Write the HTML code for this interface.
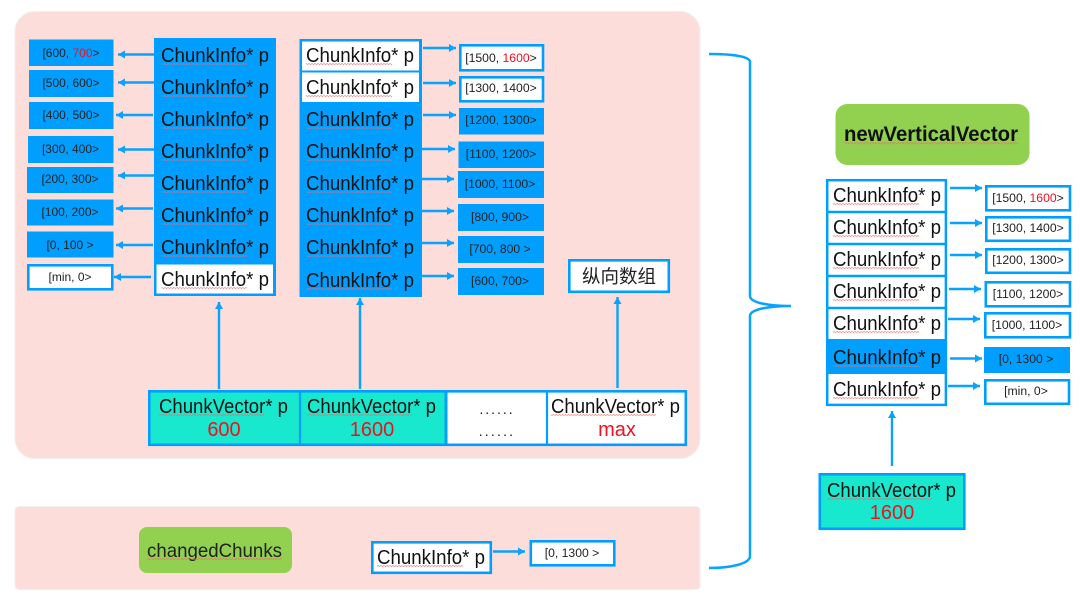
<!DOCTYPE html>
<html><head><meta charset="utf-8"><style>
html,body{margin:0;padding:0;background:#fff}
svg{display:block}
text{font-family:"Liberation Sans","Noto Sans CJK SC",sans-serif;fill:#111}
.c{font-size:20px}
.v{font-size:20px}
.s{font-size:12.2px;text-anchor:middle;fill:#222}
.l{font-size:12px;text-anchor:middle;fill:#222}
.r{fill:#f01020}
.n{font-size:20px;text-anchor:middle;fill:#f01020}
.b{fill:#009fff}
.o{fill:#fff;stroke:#009fff;stroke-width:2.6}
.a{stroke:#0aa2ff;stroke-width:2.4;fill:none;marker-end:url(#m)}
.w{fill:url(#wv)}
</style></head><body>
<svg width="1080" height="602" viewBox="0 0 1080 602" xmlns="http://www.w3.org/2000/svg">
<defs>
<marker id="m" markerUnits="userSpaceOnUse" markerWidth="8" markerHeight="9" refX="7" refY="4.500" orient="auto"><path d="M0 .5L7 4.500L0 8.500z" fill="#0aa2ff"/></marker>
<pattern id="wv" width="3" height="2" patternUnits="userSpaceOnUse"><path d="M0 1.500L1.500 .5L3 1.500" stroke="#ec6a6a" stroke-width=".7" fill="none"/></pattern>
</defs>
<rect width="1080" height="602" fill="#fff"/>
<rect x="15" y="11.500" width="685" height="447" rx="20" fill="#fdddd9" stroke="#eee" stroke-width="1"/>
<rect x="15" y="506.500" width="685" height="83" rx="4" fill="#fdddd9" stroke="#eee" stroke-width="1"/>

<!-- left small boxes -->
<rect class="b" x="29" y="39.500" width="84.500" height="26.500"/>
<rect class="b" x="29" y="70" width="84.500" height="27"/>
<rect class="b" x="29" y="102" width="84.500" height="27"/>
<rect class="b" x="28" y="136" width="85.500" height="27"/>
<rect class="b" x="27" y="167" width="86.500" height="26"/>
<rect class="b" x="27" y="199.500" width="86.500" height="26"/>
<rect class="b" x="27" y="231.500" width="86.500" height="26"/>
<rect class="o" x="28.300" y="265.300" width="84" height="24"/>
<text class="l" x="71" y="57">[600, <tspan class="r">700</tspan>&gt;</text>
<text class="l" x="71" y="87">[500, 600&gt;</text>
<text class="l" x="71" y="119">[400, 500&gt;</text>
<text class="l" x="70.500" y="153">[300, 400&gt;</text>
<text class="l" x="70" y="183">[200, 300&gt;</text>
<text class="l" x="70" y="216">[100, 200&gt;</text>
<text class="l" x="70" y="249">[0, 100 &gt;</text>
<text class="l" x="70" y="281">[min, 0&gt;</text>
<path class="a" d="M154 54.500H118"/><path class="a" d="M154 82.500H118"/><path class="a" d="M153 115H116"/><path class="a" d="M154 149.500H118"/><path class="a" d="M154 175.500H118"/><path class="a" d="M153 208.500H116"/><path class="a" d="M153 245H116"/><path class="a" d="M151 277H114"/>

<!-- column 1 -->
<rect class="b" x="154" y="38" width="122" height="258"/>
<rect x="156.500" y="264.500" width="116.500" height="29" fill="#fff"/>
<text class="c" x="161" y="62" textLength="108" lengthAdjust="spacingAndGlyphs">ChunkInfo* p</text>
<text class="c" x="161" y="94" textLength="108" lengthAdjust="spacingAndGlyphs">ChunkInfo* p</text>
<text class="c" x="161" y="126" textLength="108" lengthAdjust="spacingAndGlyphs">ChunkInfo* p</text>
<text class="c" x="161" y="158" textLength="108" lengthAdjust="spacingAndGlyphs">ChunkInfo* p</text>
<text class="c" x="161" y="190" textLength="108" lengthAdjust="spacingAndGlyphs">ChunkInfo* p</text>
<text class="c" x="161" y="222" textLength="108" lengthAdjust="spacingAndGlyphs">ChunkInfo* p</text>
<text class="c" x="161" y="254" textLength="108" lengthAdjust="spacingAndGlyphs">ChunkInfo* p</text>
<text class="c" x="161" y="286" textLength="108" lengthAdjust="spacingAndGlyphs">ChunkInfo* p</text>
<rect class="w" x="161" y="63" width="86" height="2"/><rect class="w" x="161" y="95" width="86" height="2"/><rect class="w" x="161" y="127" width="86" height="2"/><rect class="w" x="161" y="159" width="86" height="2"/><rect class="w" x="161" y="191" width="86" height="2"/><rect class="w" x="161" y="223" width="86" height="2"/><rect class="w" x="161" y="255" width="86" height="2"/><rect class="w" x="161" y="287" width="86" height="2"/>

<!-- column 2 -->
<rect class="b" x="299.500" y="39" width="122.500" height="258"/>
<rect x="302" y="41.500" width="117" height="29" fill="#fff"/>
<rect x="302" y="72.500" width="117" height="29.500" fill="#fff"/>
<text class="c" x="306" y="62" textLength="108" lengthAdjust="spacingAndGlyphs">ChunkInfo* p</text>
<text class="c" x="306" y="94" textLength="108" lengthAdjust="spacingAndGlyphs">ChunkInfo* p</text>
<text class="c" x="306" y="126" textLength="108" lengthAdjust="spacingAndGlyphs">ChunkInfo* p</text>
<text class="c" x="306" y="158" textLength="108" lengthAdjust="spacingAndGlyphs">ChunkInfo* p</text>
<text class="c" x="306" y="190" textLength="108" lengthAdjust="spacingAndGlyphs">ChunkInfo* p</text>
<text class="c" x="306" y="222" textLength="108" lengthAdjust="spacingAndGlyphs">ChunkInfo* p</text>
<text class="c" x="306" y="254" textLength="108" lengthAdjust="spacingAndGlyphs">ChunkInfo* p</text>
<text class="c" x="306" y="287" textLength="108" lengthAdjust="spacingAndGlyphs">ChunkInfo* p</text>
<rect class="w" x="306" y="63" width="86" height="2"/><rect class="w" x="306" y="95" width="86" height="2"/><rect class="w" x="306" y="127" width="86" height="2"/><rect class="w" x="306" y="159" width="86" height="2"/><rect class="w" x="306" y="191" width="86" height="2"/><rect class="w" x="306" y="223" width="86" height="2"/><rect class="w" x="306" y="255" width="86" height="2"/><rect class="w" x="306" y="288" width="86" height="2"/>
<path class="a" d="M423 48H456"/><path class="a" d="M423 83H456"/><path class="a" d="M423 115H456"/><path class="a" d="M422 149H455"/><path class="a" d="M421 179H454"/><path class="a" d="M421 211H454"/><path class="a" d="M421 243H454"/><path class="a" d="M421 276H454"/>

<!-- middle boxes -->
<rect class="o" x="460.300" y="45.300" width="82.700" height="25"/>
<rect class="o" x="460.300" y="77.300" width="82.700" height="24"/>
<rect class="b" x="459" y="108" width="85" height="26.500"/>
<rect class="b" x="458.500" y="141.500" width="85.500" height="26.500"/>
<rect class="b" x="458" y="171" width="86" height="27"/>
<rect class="b" x="458" y="204" width="86" height="27"/>
<rect class="b" x="458" y="236" width="86" height="27"/>
<rect class="b" x="458" y="268" width="86" height="27"/>
<text class="s" x="501" y="62">[1500, <tspan class="r">1600</tspan>&gt;</text>
<text class="s" x="501" y="92">[1300, 1400&gt;</text>
<text class="s" x="501" y="124">[1200, 1300&gt;</text>
<text class="s" x="501" y="158">[1100, 1200&gt;</text>
<text class="s" x="500" y="188">[1000, 1100&gt;</text>
<text class="s" x="500" y="221">[800, 900&gt;</text>
<text class="s" x="500" y="253">[700, 800 &gt;</text>
<text class="s" x="500" y="285">[600, 700&gt;</text>

<!-- 纵向数组 -->
<rect class="o" x="569.300" y="260.300" width="99.500" height="31.500"/>
<text x="582" y="283" style="font-size:18.500px;fill:#222">纵向数组</text>

<!-- up arrows -->
<path class="a" d="M219 389V302"/>
<path class="a" d="M360 389V298"/>
<path class="a" d="M617.500 388V297"/>

<!-- vector table -->
<rect x="148" y="390" width="298" height="56" fill="#18e8ce"/>
<rect x="446" y="390" width="241" height="56" fill="#fff"/>
<rect x="149.300" y="391.300" width="536.500" height="53.500" fill="none" stroke="#009fff" stroke-width="2.600"/>
<path d="M300 390V446" stroke="#009fff" stroke-width="2.200"/>
<path d="M446 390V446" stroke="#009fff" stroke-width="3"/>
<path d="M547 390V446" stroke="#009fff" stroke-width="2.200"/>
<text class="v" x="159" y="413" textLength="129" lengthAdjust="spacingAndGlyphs">ChunkVector* p</text>
<text class="v" x="307" y="413" textLength="129" lengthAdjust="spacingAndGlyphs">ChunkVector* p</text>
<text class="v" x="551" y="413" textLength="129" lengthAdjust="spacingAndGlyphs">ChunkVector* p</text>
<rect class="w" x="159" y="414" width="105" height="2"/><rect class="w" x="307" y="414" width="105" height="2"/><rect class="w" x="551" y="414" width="105" height="2"/>
<text class="n" x="224" y="436">600</text>
<text class="n" x="372" y="436">1600</text>
<text class="n" x="617" y="436">max</text>
<text x="497" y="414" text-anchor="middle" style="font-size:14px;letter-spacing:2px">......</text>
<text x="497" y="436" text-anchor="middle" style="font-size:14px;letter-spacing:2.200px">......</text>

<!-- changedChunks -->
<rect x="139" y="527" width="153" height="46" rx="8" fill="#92d050"/>
<text x="147" y="557" textLength="135" lengthAdjust="spacingAndGlyphs" style="font-size:19.500px;fill:#222">changedChunks</text>
<rect class="w" x="147" y="558" width="135" height="2"/>
<rect class="o" x="372.300" y="542.300" width="118.500" height="30.500"/>
<text class="c" x="377" y="564" textLength="108" lengthAdjust="spacingAndGlyphs">ChunkInfo* p</text>
<rect class="w" x="377" y="565" width="86" height="2"/>
<path class="a" d="M493 551.500H525"/>
<rect class="o" x="530.800" y="541.300" width="83.500" height="24"/>
<text class="s" x="572" y="557">[0, 1300 &gt;</text>

<!-- brace -->
<path d="M709 54C730 54 750 56 750 62V296C750 303 770 306 791 306C770 306 750 309 750 316V556C750 564 730 568 709 568" fill="none" stroke="#0aa2ff" stroke-width="2.500"/>

<!-- right -->
<rect x="835.500" y="104" width="194" height="61" rx="12" fill="#92d050"/>
<text x="844" y="141" textLength="174" lengthAdjust="spacingAndGlyphs" style="font-size:21px;font-weight:bold">newVerticalVector</text>
<rect class="w" x="844" y="142.500" width="174" height="2"/>

<rect x="827.200" y="180.200" width="118.700" height="224.700" fill="#fff" stroke="#009fff" stroke-width="2.500"/>
<rect class="b" x="826" y="339" width="121" height="35"/>
<path d="M826 212H947M826 244H947M826 276H947M826 308H947" stroke="#009fff" stroke-width="2.400"/>
<text class="c" x="833" y="202" textLength="108" lengthAdjust="spacingAndGlyphs">ChunkInfo* p</text>
<text class="c" x="833" y="234" textLength="108" lengthAdjust="spacingAndGlyphs">ChunkInfo* p</text>
<text class="c" x="833" y="266" textLength="108" lengthAdjust="spacingAndGlyphs">ChunkInfo* p</text>
<text class="c" x="833" y="298" textLength="108" lengthAdjust="spacingAndGlyphs">ChunkInfo* p</text>
<text class="c" x="833" y="330" textLength="108" lengthAdjust="spacingAndGlyphs">ChunkInfo* p</text>
<text class="c" x="833" y="364" textLength="108" lengthAdjust="spacingAndGlyphs">ChunkInfo* p</text>
<text class="c" x="833" y="396" textLength="108" lengthAdjust="spacingAndGlyphs">ChunkInfo* p</text>
<rect class="w" x="833" y="203" width="86" height="2"/><rect class="w" x="833" y="235" width="86" height="2"/><rect class="w" x="833" y="267" width="86" height="2"/><rect class="w" x="833" y="299" width="86" height="2"/><rect class="w" x="833" y="331" width="86" height="2"/><rect class="w" x="833" y="365" width="86" height="2"/><rect class="w" x="833" y="397" width="86" height="2"/>

<path class="a" d="M950 188H982"/><path class="a" d="M950 223H982"/><path class="a" d="M950 255H982"/><path class="a" d="M949 289H981"/><path class="a" d="M948 319H980"/><path class="a" d="M950 358.500H982"/><path class="a" d="M948 386H980"/>

<rect class="o" x="986.300" y="186.300" width="83.700" height="24"/>
<rect class="o" x="986.300" y="217.300" width="83.700" height="23.500"/>
<rect class="o" x="986.300" y="249.300" width="83.700" height="23.500"/>
<rect class="o" x="985.800" y="282.300" width="84.200" height="24"/>
<rect class="o" x="985.300" y="313.300" width="84.700" height="24"/>
<rect class="b" x="984" y="347" width="86" height="26"/>
<rect class="o" x="985.300" y="380.300" width="83.700" height="23.500"/>
<text class="s" x="1028" y="202">[1500, <tspan class="r">1600</tspan>&gt;</text>
<text class="s" x="1028" y="232">[1300, 1400&gt;</text>
<text class="s" x="1028" y="264">[1200, 1300&gt;</text>
<text class="s" x="1028" y="298">[1100, 1200&gt;</text>
<text class="s" x="1027" y="329">[1000, 1100&gt;</text>
<text class="s" x="1026" y="363">[0, 1300 &gt;</text>
<text class="s" x="1026" y="395">[min, 0&gt;</text>

<path class="a" d="M892 466V411"/>
<rect x="819.800" y="474.300" width="144.500" height="54.500" fill="#18e8ce" stroke="#009fff" stroke-width="2.600"/>
<text class="v" x="827" y="497" textLength="129" lengthAdjust="spacingAndGlyphs">ChunkVector* p</text>
<rect class="w" x="827" y="498" width="105" height="2"/>
<text class="n" x="892" y="519">1600</text>
</svg>
</body></html>
